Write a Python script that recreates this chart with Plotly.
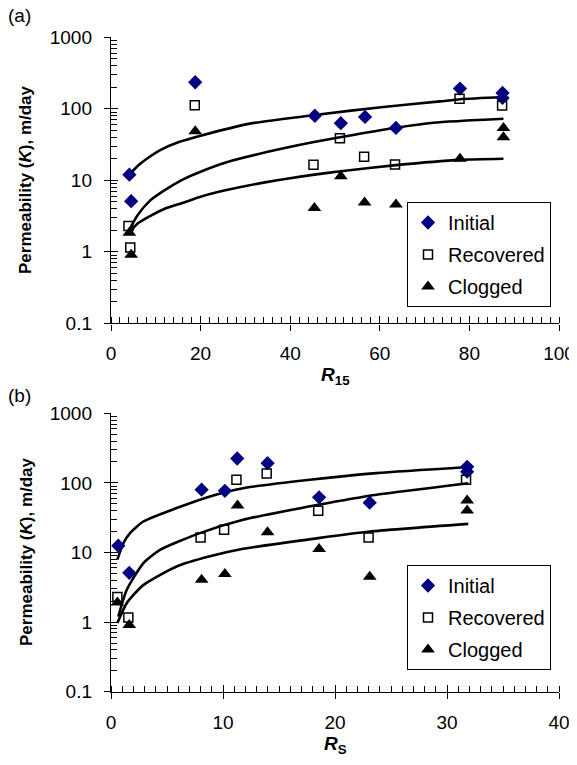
import plotly.graph_objects as go

# ---------------- Panel (a): K vs R15 ----------------
a_init_x = [4.1, 4.5, 18.8, 45.5, 51.3, 56.7, 63.6, 77.9, 87.4, 87.4]
a_init_k = [12, 5.1, 235, 80, 63, 77, 54, 192, 167, 142]
a_rec_x = [3.9, 4.3, 18.7, 45.2, 51.1, 56.5, 63.4, 77.8, 87.3]
a_rec_k = [2.3, 1.15, 112, 16.5, 38.8, 21.3, 16.6, 138, 111]
a_clog_x = [4.1, 4.5, 18.8, 45.4, 51.3, 56.6, 63.6, 77.9, 87.6, 87.6]
a_clog_k = [1.85, 0.91, 48.6, 4.1, 11.4, 4.9, 4.6, 20, 54, 40]

# trend curves
a_c1_x = [4.1, 6, 8, 11.3, 15, 20, 31, 45.5, 60.8, 73.4, 78, 87.6]
a_c1_k = [12, 16, 20, 27, 34, 42, 62, 82, 106, 127, 136, 146]
a_c2_x = [4.1, 6, 8.7, 12, 16.1, 20, 25.8, 35, 45, 51.1, 60.8, 71.9, 87.6]
a_c2_k = [2.05, 3.3, 5.2, 7.3, 10.3, 13.2, 17.9, 25, 34, 40, 51, 63.7, 72.5]
a_c3_x = [4.1, 6, 8.7, 12, 16.1, 20, 25.8, 35, 45.4, 51.3, 63.6, 78, 87.6]
a_c3_k = [1.85, 2.5, 3.15, 4.0, 4.85, 5.9, 7.3, 9.5, 12, 13.4, 16.3, 19.3, 20]

# ---------------- Panel (b): K vs Rs ----------------
b_init_x = [0.65, 1.63, 8.09, 10.17, 11.27, 13.98, 18.58, 23.1, 31.8, 31.8]
b_init_k = [12.5, 5.1, 80, 77, 224, 192, 62, 52, 170, 145]
b_rec_x = [0.57, 1.55, 8.0, 10.1, 11.2, 13.9, 18.5, 23.0, 31.7]
b_rec_k = [2.29, 1.16, 16.4, 21.2, 111, 136, 39.7, 16.4, 111]
b_clog_x = [0.57, 1.63, 8.09, 10.17, 11.3, 13.98, 18.58, 23.1, 31.8, 31.8]
b_clog_k = [1.91, 0.91, 4.05, 4.9, 47.3, 19.6, 11.2, 4.5, 56, 40]

b_c1_x = [0.57, 1.1, 1.7, 2.88, 5.86, 8.83, 11.8, 17.75, 23.7, 31.9]
b_c1_k = [7.9, 13.6, 19, 27.9, 43.5, 64, 84, 111, 138, 169]
b_c2_x = [0.65, 1.4, 2.88, 4.37, 7.94, 11.8, 18.5, 23.7, 31.9]
b_c2_k = [1.2, 2.9, 7.0, 10.9, 19, 29.5, 48.4, 67.5, 99]
b_c3_x = [0.57, 1.4, 2.88, 5.86, 8.83, 11.8, 18.5, 23.1, 31.9]
b_c3_k = [0.97, 1.87, 3.4, 6.3, 8.8, 11.3, 16.1, 20, 25.8]

y_tickvals = [0.1, 1, 10, 100, 1000]
y_ticktext = ["0.1", "1", "10", "100", "1000"]
series_names = ["Initial", "Recovered", "Clogged"]

W, H = 577, 765
OX, OY = 8, 8  # page body offset of the figure
FONT = "Arial, Liberation Sans, sans-serif"

def px(x):
    return (x - OX) / W

def py(y):
    return 1 - (y - OY) / H

fig = go.Figure()

def add_panel(xa, ya, legend, pts, curves):
    for cx, ck in curves:
        fig.add_trace(go.Scatter(x=cx, y=ck, mode="lines", xaxis=xa, yaxis=ya,
                                 line=dict(color="black", width=2.6, shape="spline", smoothing=0.6),
                                 showlegend=False, hoverinfo="skip"))
    styles = [
        dict(symbol="diamond", size=11, color="#000080"),
        dict(symbol="square-open", size=9, color="black", line=dict(width=1.5, color="black")),
        dict(symbol="triangle-up", size=12, color="black"),
    ]
    for (pxs, pk), name, st in zip(pts, series_names, styles):
        fig.add_trace(go.Scatter(x=pxs, y=pk, mode="markers", name=name, xaxis=xa, yaxis=ya,
                                 marker=st, legend=legend, legendgroup=legend + name))

add_panel("x", "y", "legend",
          [(a_init_x, a_init_k), (a_rec_x, a_rec_k), (a_clog_x, a_clog_k)],
          [(a_c1_x, a_c1_k), (a_c2_x, a_c2_k), (a_c3_x, a_c3_k)])
add_panel("x2", "y2", "legend2",
          [(b_init_x, b_init_k), (b_rec_x, b_rec_k), (b_clog_x, b_clog_k)],
          [(b_c1_x, b_c1_k), (b_c2_x, b_c2_k), (b_c3_x, b_c3_k)])

# dummy traces to create overlay axes (inside major ticks)
fig.add_trace(go.Scatter(x=[None], y=[None], xaxis="x3", yaxis="y3", showlegend=False, hoverinfo="skip"))
fig.add_trace(go.Scatter(x=[None], y=[None], xaxis="x4", yaxis="y4", showlegend=False, hoverinfo="skip"))

xdom = [px(111), px(559)]
ydom_a = [py(323.3), py(37.3)]
ydom_b = [py(691.7), py(413.3)]

minor_log = [k * 10 ** d for d in range(-1, 3) for k in range(2, 10)]
tickfont = dict(family=FONT, size=19, color="black")

def xaxis_main(dom, anchor, rng, dt, mdt):
    return dict(domain=dom, anchor=anchor, range=rng, tick0=0, dtick=dt,
                showline=True, linecolor="black", linewidth=1.4, mirror=False,
                ticks="outside", ticklen=6, tickwidth=1.4, tickcolor="black",
                minor=dict(ticks="inside", ticklen=6, tickwidth=1.2, tickcolor="black", dtick=mdt, tick0=0),
                showgrid=False, zeroline=False, tickfont=tickfont, ticklabelstandoff=7,
                automargin=False)

def yaxis_main(dom, anchor):
    return dict(domain=dom, anchor=anchor, type="log", range=[-1, 3],
                tickmode="array", tickvals=y_tickvals, ticktext=y_ticktext,
                showline=True, linecolor="black", linewidth=1.4,
                ticks="outside", ticklen=6, tickwidth=1.4, tickcolor="black",
                minor=dict(ticks="inside", ticklen=6, tickwidth=1.2, tickcolor="black",
                           tickmode="array", tickvals=minor_log),
                showgrid=False, zeroline=False, tickfont=tickfont, ticklabelstandoff=8,
                automargin=False)

def xaxis_over(base, anchor, rng, dt):
    return dict(overlaying=base, anchor=anchor, range=rng, tick0=0, dtick=dt,
                showline=False, ticks="inside", ticklen=7, tickwidth=1.4, tickcolor="black",
                showticklabels=False, showgrid=False, zeroline=False, automargin=False)

def yaxis_over(base, anchor):
    return dict(overlaying=base, anchor=anchor, type="log", range=[-1, 3],
                tickmode="array", tickvals=y_tickvals,
                showline=False, ticks="inside", ticklen=7, tickwidth=1.4, tickcolor="black",
                showticklabels=False, showgrid=False, zeroline=False, automargin=False)

legend_common = dict(bordercolor="black", borderwidth=1, bgcolor="white",
                     font=dict(family=FONT, size=20, color="black"),
                     xanchor="left", yanchor="top", tracegroupgap=3, itemwidth=30)

fig.update_layout(
    width=W, height=H, margin=dict(l=0, r=0, t=0, b=0, pad=0, autoexpand=False),
    paper_bgcolor="white", plot_bgcolor="white",
    font=dict(family=FONT, color="black"),
    xaxis=xaxis_main(xdom, "y", [0, 100], 20, 2),
    yaxis=yaxis_main(ydom_a, "x"),
    xaxis2=xaxis_main(xdom, "y2", [0, 40], 10, 1),
    yaxis2=yaxis_main(ydom_b, "x2"),
    xaxis3=xaxis_over("x", "y", [0, 100], 20),
    yaxis3=yaxis_over("y", "x"),
    xaxis4=xaxis_over("x2", "y2", [0, 40], 10),
    yaxis4=yaxis_over("y2", "x2"),
    legend=dict(x=px(407), y=py(202), **legend_common),
    legend2=dict(x=px(407), y=py(565), **legend_common),
    showlegend=True,
)

ann_font = dict(family=FONT, size=19, color="black")
annotations = [
    dict(text="(a)", x=px(6), y=py(3), xanchor="left", yanchor="top", font=ann_font),
    dict(text="(b)", x=px(6), y=py(383), xanchor="left", yanchor="top", font=ann_font),
    dict(text="<b><i>R</i><sub>15</sub></b>", x=px(335), y=py(376), xanchor="center", yanchor="middle", font=ann_font),
    dict(text="<b><i>R</i><sub>S</sub></b>", x=px(335), y=py(745), xanchor="center", yanchor="middle", font=ann_font),
    dict(text="<b>Permeability (<i>K</i>), m/day</b>", x=px(26), y=py(180), textangle=-90,
         xanchor="center", yanchor="middle", font=dict(family=FONT, size=17, color="black")),
    dict(text="<b>Permeability (<i>K</i>), m/day</b>", x=px(26), y=py(552), textangle=-90,
         xanchor="center", yanchor="middle", font=dict(family=FONT, size=17, color="black")),
]
for a in annotations:
    a.update(xref="paper", yref="paper", showarrow=False)
fig.update_layout(annotations=annotations)

fig.write_html("out.html")
